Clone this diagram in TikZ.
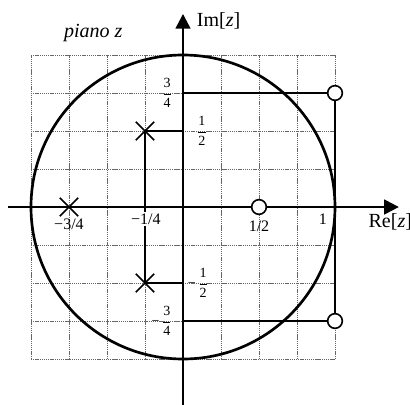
\documentclass[tikz,border=0pt]{standalone}
\usepackage{amsmath}
\usepackage{fontspec}
\setmainfont{Liberation Serif}
\usetikzlibrary{arrows.meta,shapes.misc}

\newcommand{\vfr}[2]{$\dfrac{\text{#1}}{\text{#2}}$}
\newcommand{\nvfr}[2]{−\,\vfr{#1}{#2}}

\begin{document}
\begin{tikzpicture}[x=4cm, y=4cm, >={Triangle[length=11pt,width=11pt]},
  every node/.style={font=\fontsize{12}{14}\selectfont},
  gridline/.style={black!60, line width=0.45pt, dash pattern=on 1pt off 0.6pt},
  axis/.style={line width=1.8pt},
  link/.style={line width=1.6pt},
  pole/.style={cross out, draw, line width=1.3pt, minimum size=12.5pt, inner sep=0pt},
  zero/.style={circle, draw, fill=white, line width=1.2pt, minimum size=11pt, inner sep=0pt},
  big/.style={font=\fontsize{15}{17}\selectfont},
  tick/.style={inner sep=0pt, font=\fontsize{10.5}{12}\selectfont}]
  \useasboundingbox (-183/152,-197/152) rectangle (227/152,207/152);
  % grid and unit circle
  \draw[gridline] (-1,-1) grid[step=1cm] (1,1);
  \draw[line width=2pt] (0,0) circle[radius=1];
  % axes
  \coordinate (xl) at (-1.15,0);
  \coordinate (xr) at (1.42,0);
  \coordinate (yb) at (0,-1.31);
  \coordinate (yt) at (0,1.27);
  \draw[axis,->] (xl) -- (xr);
  \draw[axis,->] (yb) -- (yt);
  \node[big, anchor=west] (re) at (1.19,-0.10) {Re[\textit{z}]};
  \node[big, anchor=west] (im) at (0.06,1.224) {Im[\textit{z}]};
  \node[big] (piano) at (-0.59,1.145) {\textit{piano z}};
  % poles
  \node[pole] (p1) at (-0.25,0.5) {};
  \node[pole] (p2) at (-0.25,-0.5) {};
  \node[pole] (p3) at (-0.75,0) {};
  \coordinate (c12) at (0,0.5);
  \coordinate (d12) at (0,-0.5);
  \draw[link] (c12) -- (p1.center) -- (p2.center) -- (d12);
  % zeros
  \coordinate (a34) at (0,0.75);
  \coordinate (b34) at (0,-0.75);
  \draw[link] (a34) -- (1,0.75) -- (1,-0.75) -- (b34);
  \node[zero] (z1) at (1,0.75) {};
  \node[zero] (z2) at (1,-0.75) {};
  \node[zero] (z3) at (0.5,0) {};
  % labels
  \node[tick] (l34) at (-0.105,0.75) {\vfr{3}{4}};
  \node[tick] (l12) at (0.125,0.5) {\vfr{1}{2}};
  \node[tick, anchor=west] (lm12) at (0.03,-0.5) {\nvfr{1}{2}};
  \node[tick, anchor=east] (lm34) at (-0.07,-0.75) {\nvfr{3}{4}};
  \node (nx34) at (-0.75,-0.112) {−3/4};
  \node[fill=white, inner sep=1pt] (nx14) at (-0.245,-0.08) {−1/4};
  \node (nx12) at (0.5,-0.125) {1/2};
  \node (nx1) at (0.92,-0.08) {1};
\end{tikzpicture}
\end{document}
